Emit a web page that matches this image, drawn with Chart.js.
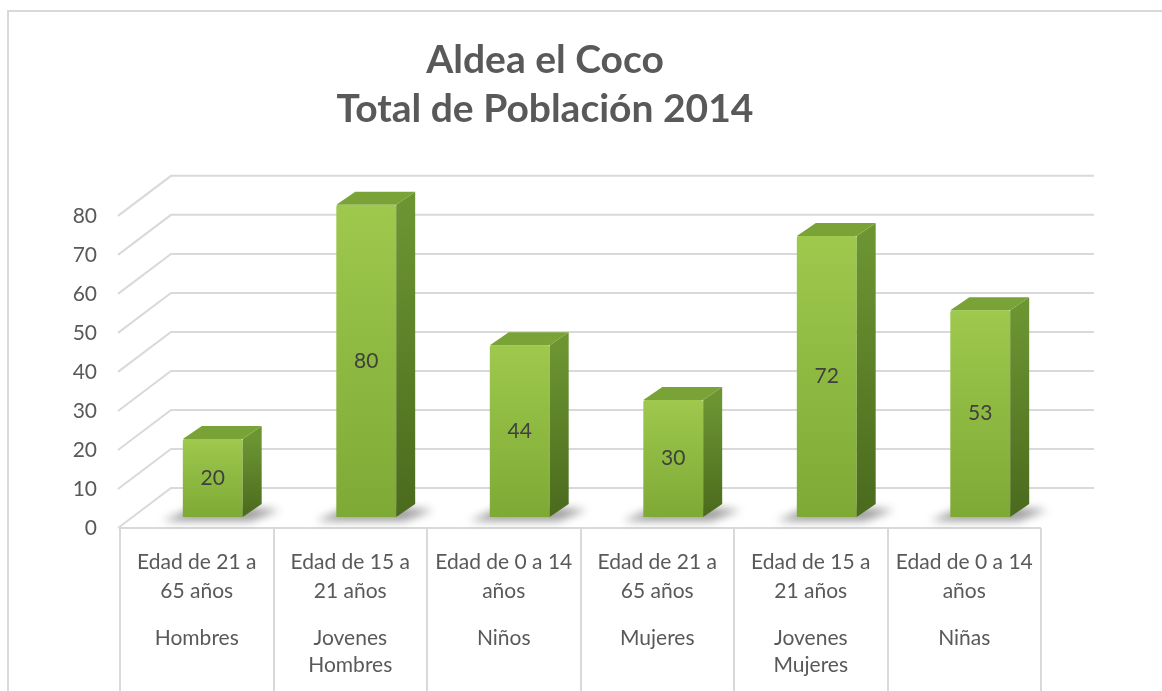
<!DOCTYPE html>
<html>
<head>
<meta charset="utf-8">
<script src="https://cdn.jsdelivr.net/npm/chart.js@4/dist/chart.umd.min.js"></script>
<style>
    html, body { margin: 0; padding: 0; background: #fff; overflow: hidden; }
    #frame { position: absolute; left: 7px; top: 10px; width: 2000px; height: 2000px; border: 2px solid #d9d9d9; }
    #wrap { position: absolute; left: 0; top: 0; width: 1162px; height: 691px; }
</style>
</head>
<body>
<div id="frame"></div>
<div id="wrap"><canvas id="chart"></canvas></div>
<script>
// data
const ageLabels = [
    ['Edad de 21 a', '65 años'],
    ['Edad de 15 a', '21 años'],
    ['Edad de 0 a 14', 'años'],
    ['Edad de 21 a', '65 años'],
    ['Edad de 15 a', '21 años'],
    ['Edad de 0 a 14', 'años']
];
const groupLabels = ['Hombres', ['Jovenes', 'Hombres'], 'Niños', 'Mujeres', ['Jovenes', 'Mujeres'], 'Niñas'];
const population = [20, 80, 44, 30, 72, 53];
const yMin = 0, yMax = 80, yStep = 10;
const titleLines = ['Aldea el Coco', 'Total de Población 2014'];

// 3D look
const WALL_DX = 53, WALL_DY = -40;     // front plane -> back wall
const BAR_SHIFT_X = 16, BAR_SHIFT_Y = -11; // bars sit a bit inside the floor
const BAR_DX = 19, BAR_DY = -13;       // depth of each bar
const gridColor = '#d9d9d9';
const textColor = '#595959';

const threeD = {
    id: 'threeD',
    beforeDatasetsDraw(chart) {
        const { ctx, chartArea: a, scales: { y } } = chart;
        ctx.save();
        ctx.strokeStyle = gridColor;
        ctx.lineWidth = 2;
        // floor + back wall gridlines
        y.ticks.forEach(t => {
            const py = y.getPixelForValue(t.value);
            ctx.beginPath();
            ctx.moveTo(a.left - 2, py);
            ctx.lineTo(a.left - 2 + WALL_DX, py + WALL_DY);
            ctx.lineTo(a.right + WALL_DX, py + WALL_DY);
            ctx.stroke();
        });
        // category box below the floor
        const n = chart.data.labels.length;
        const w = (a.right - a.left) / n;
        ctx.beginPath();
        ctx.moveTo(a.left, a.bottom);
        ctx.lineTo(a.right, a.bottom);
        for (let i = 0; i <= n; i++) {
            const px = Math.round(a.left + i * w);
            ctx.moveTo(px, a.bottom);
            ctx.lineTo(px, chart.height);
        }
        ctx.stroke();

        // soft floor shadows
        const meta = chart.getDatasetMeta(0);
        ctx.filter = 'blur(4px)';
        ctx.fillStyle = 'rgba(60, 60, 60, 0.5)';
        meta.data.forEach(bar => {
            const x0 = bar.x - bar.width / 2 + BAR_SHIFT_X;
            const x1 = x0 + bar.width;
            const base = bar.base + BAR_SHIFT_Y;
            ctx.beginPath();
            ctx.moveTo(x0 - 20, base + 4);
            ctx.lineTo(x1 + 8, base + 4);
            ctx.lineTo(x1 + BAR_DX + 18, base + BAR_DY + 6);
            ctx.lineTo(x0 + BAR_DX, base + BAR_DY);
            ctx.closePath();
            ctx.fill();
        });
        ctx.filter = 'none';
        ctx.restore();

        ctx.save();
        ctx.translate(BAR_SHIFT_X, BAR_SHIFT_Y);
    },
    afterDatasetsDraw(chart) {
        const { ctx } = chart;
        const meta = chart.getDatasetMeta(0);
        meta.data.forEach((bar, i) => {
            const x0 = bar.x - bar.width / 2;
            const x1 = bar.x + bar.width / 2;
            const top = bar.y, base = bar.base;

            // side face
            const sg = ctx.createLinearGradient(0, top, 0, base);
            sg.addColorStop(0, '#6c9532');
            sg.addColorStop(1, '#4a6a1d');
            ctx.fillStyle = sg;
            ctx.beginPath();
            ctx.moveTo(x1, top);
            ctx.lineTo(x1 + BAR_DX, top + BAR_DY);
            ctx.lineTo(x1 + BAR_DX, base + BAR_DY);
            ctx.lineTo(x1, base);
            ctx.closePath();
            ctx.fill();

            // top face
            ctx.fillStyle = '#79a337';
            ctx.beginPath();
            ctx.moveTo(x0, top);
            ctx.lineTo(x0 + BAR_DX, top + BAR_DY);
            ctx.lineTo(x1 + BAR_DX, top + BAR_DY);
            ctx.lineTo(x1, top);
            ctx.closePath();
            ctx.fill();

            // value label
            ctx.fillStyle = '#404040';
            ctx.font = '21px Lato';
            ctx.textAlign = 'center';
            ctx.textBaseline = 'middle';
            ctx.fillText(String(population[i]), bar.x, (top + base) / 2);
        });
        ctx.restore();
    }
};

const canvas = document.getElementById('chart');
new Chart(canvas, {
    type: 'bar',
    data: {
        labels: ageLabels,
        datasets: [{
            data: population,
            backgroundColor: (c) => {
                const y = c.chart.scales.y;
                if (!y || c.raw === undefined) return '#8fbc44';
                const top = y.getPixelForValue(c.raw);
                const bot = y.getPixelForValue(0);
                if (!isFinite(top) || !isFinite(bot) || top === bot) return '#8fbc44';
                const g = c.chart.ctx.createLinearGradient(0, top, 0, bot);
                g.addColorStop(0, '#9ec94d');
                g.addColorStop(1, '#7ea935');
                return g;
            },
            borderWidth: 0,
            borderRadius: 2,
            barPercentage: 0.39,
            categoryPercentage: 1
        }]
    },
    options: {
        responsive: true,
        maintainAspectRatio: false,
        animation: false,
        layout: { padding: { top: 35, left: 49, right: 121, bottom: 0 } },
        plugins: {
            legend: { display: false },
            tooltip: { enabled: false },
            title: {
                display: true,
                text: titleLines,
                color: textColor,
                font: { family: 'Lato', size: 39, weight: 'bold', lineHeight: 1.28 },
                padding: { top: 0, bottom: 81 }
            }
        },
        scales: {
            y: {
                min: yMin,
                max: yMax,
                ticks: { stepSize: yStep, color: textColor, padding: 23, font: { family: 'Lato', size: 21 } },
                grid: { display: false, drawTicks: false },
                border: { display: false },
                afterFit: (s) => { s.width = 71; }
            },
            x: {
                position: 'bottom',
                offset: true,
                ticks: { color: textColor, padding: 20, maxRotation: 0, autoSkip: false,
                    font: { family: 'Lato', size: 21, lineHeight: 1.38 } },
                grid: { display: false, drawTicks: false },
                border: { display: false },
                afterFit: (s) => { s.height = 88; }
            },
            x2: {
                type: 'category',
                labels: groupLabels,
                position: 'bottom',
                offset: true,
                ticks: { color: textColor, padding: 9, maxRotation: 0, autoSkip: false,
                    font: { family: 'Lato', size: 21, lineHeight: 1.29 } },
                grid: { display: false, drawTicks: false },
                border: { display: false },
                afterFit: (s) => { s.height = 75; }
            }
        }
    },
    plugins: [threeD]
});
</script>
</body>
</html>
